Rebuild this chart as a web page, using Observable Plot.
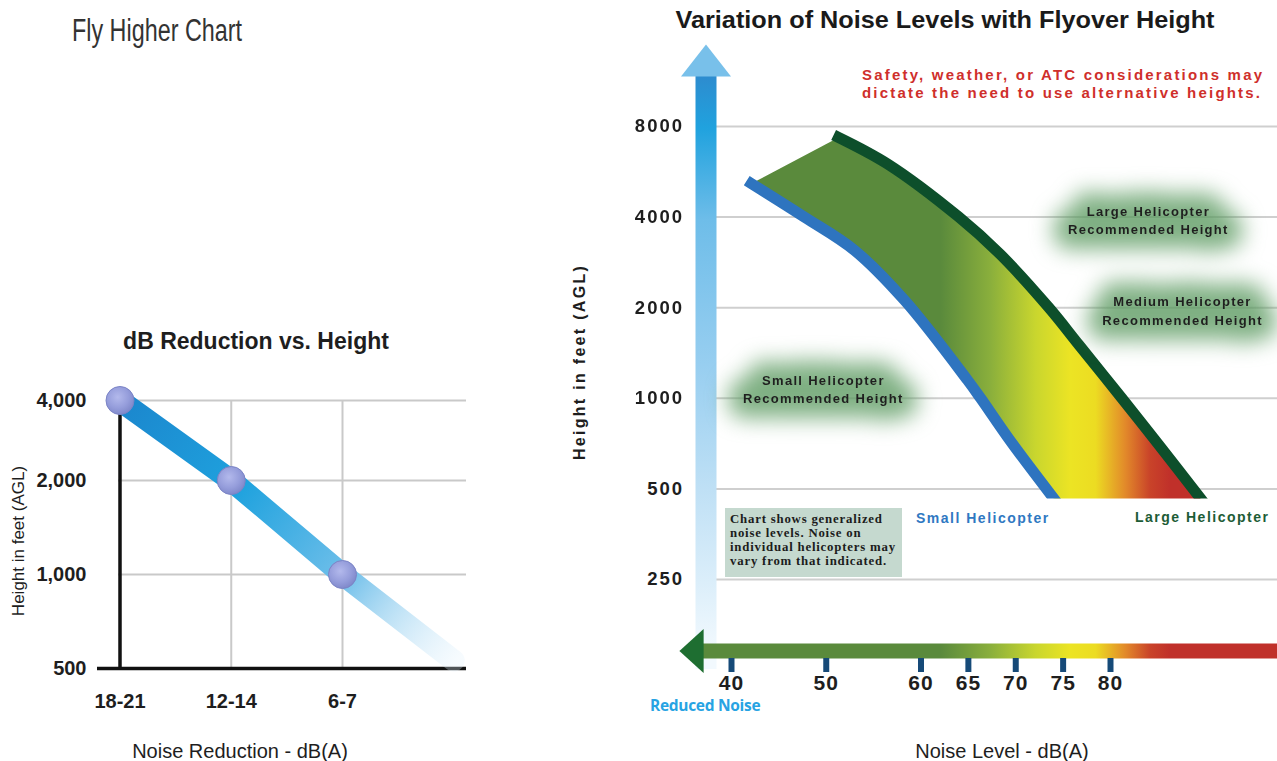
<!DOCTYPE html>
<html>
<head>
<meta charset="utf-8">
<script src="https://cdn.jsdelivr.net/npm/d3@7"></script>
<script src="https://cdn.jsdelivr.net/npm/@observablehq/plot@0.6"></script>
<style>
  html, body { margin: 0; padding: 0; background: #fff; }
  body { width: 1277px; height: 761px; position: relative; overflow: hidden;
         font-family: "Liberation Sans", Arial, sans-serif; color: #1e1e1e; }
  .layer { position: absolute; left: 0; top: 0; }
  .t { position: absolute; white-space: nowrap; line-height: 1; }
  .c { transform: translate(-50%, -50%); }
  .l { transform: translate(0, -50%); }
  .b { font-weight: bold; }
  .note { position: absolute; left: 725px; top: 508px; width: 172px; height: 65px;
          padding: 4px 0 0 5px; background: #c5d9cf;
          font-family: "Liberation Serif", "DejaVu Serif", serif; font-weight: bold;
          font-size: 12.8px; line-height: 14px; letter-spacing: 0.8px; color: #1c1c1c; white-space: nowrap; }
  .rplot [aria-label="y-axis tick label"] text { letter-spacing: 2px; }
  .rplot [aria-label="x-axis tick label"] text { letter-spacing: 1px; }
</style>
</head>
<body>
<svg width="0" height="0" style="position:absolute">
  <defs>
    <!-- noise colour ramp, shared by the band and the bottom arrow -->
    <linearGradient id="noiseGrad" gradientUnits="userSpaceOnUse" x1="705" y1="0" x2="1277" y2="0">
      <stop offset="0" stop-color="#5a8a3c"/>
      <stop offset="0.411" stop-color="#5a8a3c"/>
      <stop offset="0.498" stop-color="#8aaf3c"/>
      <stop offset="0.577" stop-color="#c9d62e"/>
      <stop offset="0.638" stop-color="#ece424"/>
      <stop offset="0.682" stop-color="#ecdc22"/>
      <stop offset="0.734" stop-color="#e2892a"/>
      <stop offset="0.777" stop-color="#c94329"/>
      <stop offset="0.813" stop-color="#c0302a"/>
      <stop offset="1" stop-color="#c0302a"/>
    </linearGradient>
    <!-- height arrow shaft -->
    <linearGradient id="shaftGrad" gradientUnits="userSpaceOnUse" x1="0" y1="76" x2="0" y2="650">
      <stop offset="0" stop-color="#2d8ccf"/>
      <stop offset="0.09" stop-color="#20a2de"/>
      <stop offset="0.25" stop-color="#6ebde9"/>
      <stop offset="0.5" stop-color="#97cef0"/>
      <stop offset="0.72" stop-color="#bfe0f5"/>
      <stop offset="0.88" stop-color="#dbeefa"/>
      <stop offset="1" stop-color="#f2f9fe"/>
    </linearGradient>
    <!-- fading trend line of the dB reduction chart -->
    <linearGradient id="trendGrad" gradientUnits="userSpaceOnUse" x1="120" y1="397" x2="455" y2="662">
      <stop offset="0" stop-color="#1b86cd"/>
      <stop offset="0.35" stop-color="#1fa2de"/>
      <stop offset="0.68" stop-color="#72c0ea"/>
      <stop offset="1" stop-color="#e3f2fc" stop-opacity="0.3"/>
    </linearGradient>
    <radialGradient id="ballGrad" cx="0.42" cy="0.38" r="0.65">
      <stop offset="0" stop-color="#b3b9ec"/>
      <stop offset="0.6" stop-color="#959ddb"/>
      <stop offset="1" stop-color="#7e87c9"/>
    </radialGradient>
  </defs>
</svg>

<div id="left" class="layer"></div>
<div id="right" class="layer"></div>

<div id="flyTitle" class="t l" style="left:72px;top:30px;font-family:'Liberation Sans Narrow','Liberation Sans',sans-serif;font-size:31px;color:#333;transform-origin:0 50%;">Fly Higher Chart</div>

<div class="t c b" style="left:256px;top:341px;font-size:23px;">dB Reduction vs. Height</div>
<div class="t" style="left:18px;top:541px;font-size:17px;transform:translate(-50%,-50%) rotate(-90deg);">Height in feet (AGL)</div>
<div class="t c" style="left:240px;top:751px;font-size:20px;">Noise Reduction - dB(A)</div>

<div id="rightTitle" class="t c b" style="left:945px;top:20px;font-size:24px;color:#1a1a1a;">Variation of Noise Levels with Flyover Height</div>
<div class="t l b" style="left:862px;top:74px;font-size:15px;letter-spacing:2.2px;color:#cf2f2b;">Safety, weather, or ATC considerations may</div>
<div class="t l b" style="left:862px;top:92px;font-size:15px;letter-spacing:2.2px;color:#cf2f2b;">dictate the need to use alternative heights.</div>
<div class="t b" style="left:580px;top:362px;font-size:16px;letter-spacing:2.3px;transform:translate(-50%,-50%) rotate(-90deg);">Height in feet (AGL)</div>

<div class="note">Chart shows generalized<br>noise levels. Noise on<br>individual helicopters may<br>vary from that indicated.</div>
<div class="t l b" style="left:916px;top:518px;font-size:14px;letter-spacing:1.5px;color:#2f78c2;">Small Helicopter</div>
<div class="t l b" style="left:1135px;top:517px;font-size:14px;letter-spacing:1.5px;color:#1d5c36;">Large Helicopter</div>
<div class="t l b" style="left:650px;top:706px;font-family:'Open Sans',sans-serif;font-size:15.5px;letter-spacing:-0.3px;color:#27a3e3;">Reduced Noise</div>
<div class="t c" style="left:1002px;top:751px;font-size:20px;">Noise Level - dB(A)</div>

<script>
// ---- dB reduction vs. height ----
const reductionLabels = ["18-21", "12-14", "6-7"];
const reductionPos = [0, 1, 2];
const reductionHeights = [4000, 2000, 1000];
// the trend band runs on past the last category
const trendPos = [0, 1, 2, 3];
const trendHeights = [4000, 2000, 1000, 530];
const leftHeightTicks = [500, 1000, 2000, 4000];
const leftGridHeights = [1000, 2000, 4000];

// ---- noise level vs. flyover height ----
const heightTicks = [250, 500, 1000, 2000, 4000, 8000];
const noiseTicks = [40, 50, 60, 65, 70, 75, 80];
const smallDb = [42.1, 47.7, 53.0, 58.3, 64.9, 66.3, 69.4, 74.0];
const smallFt = [5170, 4000, 3100, 2110, 1150, 1000, 724, 465];
const largeDb = [51.3, 56.5, 64.0, 68.4, 73.5, 76.7, 81.2, 85.1, 89.5];
const largeFt = [7360, 6000, 4000, 3000, 2000, 1500, 1000, 700, 465];
const recLabels = ["Large Helicopter\nRecommended Height", "Medium Helicopter\nRecommended Height", "Small Helicopter\nRecommended Height"];
const recDb = [84.0, 87.6, 49.7];
const recFt = [3930, 1970, 1080];

const font = "Liberation Sans, Arial, sans-serif";

// arrowhead symbol: base of width 2r, length 2·ratio·r
const arrowHead = (ratio) => ({
  draw(ctx, size) {
    const r = Math.sqrt(size / Math.PI), h = r * ratio;
    ctx.moveTo(0, -h); ctx.lineTo(r, h); ctx.lineTo(-r, h); ctx.closePath();
  }
});

// ---------- left chart ----------
const trend = trendPos.map((p, i) => ({p, ft: trendHeights[i]}));
const points = reductionPos.map((p, i) => ({p, ft: reductionHeights[i]}));

const left = Plot.plot({
  width: 1277, height: 761,
  marginLeft: 118, marginRight: 811, marginTop: 400, marginBottom: 93,
  style: {background: "transparent", fontFamily: font, overflow: "visible"},
  x: {domain: [0, 2], range: [119.5, 342]},
  y: {type: "log", domain: [500, 1000, 2000, 4000], range: [668, 574, 480, 400]},
  marks: [
    Plot.ruleY(leftGridHeights, {stroke: "#c9c9c9", strokeWidth: 2}),
    Plot.ruleX([1, 2], {y1: 500, y2: 4000, stroke: "#c9c9c9", strokeWidth: 2}),
    Plot.ruleY([500], {stroke: "#111", strokeWidth: 3.5, insetLeft: -21}),
    Plot.ruleX([0], {y1: 500, y2: 4000, insetBottom: -12, stroke: "#111", strokeWidth: 3.5}),
    Plot.line(trend, {x: "p", y: "ft", stroke: "url(#trendGrad)", strokeWidth: 22}),
    Plot.dot(points, {x: "p", y: "ft", r: 14, fill: "url(#ballGrad)", stroke: "#7b84c6", strokeWidth: 1}),
    Plot.axisX(reductionPos, {tickFormat: (i) => reductionLabels[i], tickSize: 0, tickPadding: 25,
      fontSize: 20, fontWeight: "bold", fill: "#1e1e1e", label: null}),
    Plot.axisY(leftHeightTicks, {tickFormat: (d) => d.toLocaleString("en-US"), tickSize: 0, tickPadding: 32,
      fontSize: 20, fontWeight: "bold", fill: "#1e1e1e", label: null})
  ]
});
document.getElementById("left").append(left);

// ---------- right chart ----------
const small = smallDb.map((db, i) => ({db, ft: smallFt[i]}));
const large = largeDb.map((db, i) => ({db, ft: largeFt[i]}));
const bandOutline = [...small, ...large.slice().reverse()];
const recs = recLabels.map((label, i) => ({label, db: recDb[i], ft: recFt[i]}));

const right = Plot.plot({
  width: 1277, height: 761,
  marginLeft: 705.5, marginRight: 0, marginTop: 76, marginBottom: 103,
  className: "rplot",
  style: {background: "transparent", fontFamily: font, overflow: "visible"},
  x: {domain: [40, 80], range: [731, 1110]},
  y: {type: "log", domain: [250, 8000], range: [579, 126]},
  marks: [
    Plot.ruleY(heightTicks, {stroke: "#cfcfcf", strokeWidth: 2}),
    Plot.frame({anchor: "left", stroke: "url(#shaftGrad)", strokeWidth: 21}),
    Plot.line(bandOutline, {x: "db", y: "ft", fill: "url(#noiseGrad)", stroke: "none",
      curve: "catmull-rom", ariaDescription: "band"}),
    Plot.line(small, {x: "db", y: "ft", stroke: "#2e74bf", strokeWidth: 11, strokeLinecap: "square",
      curve: "catmull-rom", ariaDescription: "band"}),
    Plot.line(large, {x: "db", y: "ft", stroke: "#0d4f2b", strokeWidth: 11, strokeLinecap: "square",
      curve: "catmull-rom", ariaDescription: "band"}),
    Plot.text(recs, {x: "db", y: "ft", text: "label", lineHeight: 1.4, fontSize: 13, fontWeight: "bold",
      fill: "#5c9a61", stroke: "#5c9a61", strokeWidth: 30, strokeLinejoin: "round", opacity: 0.78,
      ariaDescription: "glow"}),
    Plot.text(recs, {x: "db", y: "ft", text: "label", lineHeight: 1.4, fontSize: 13, fontWeight: "bold",
      fill: "#1f1f1f", ariaDescription: "rec"}),
    Plot.frame({anchor: "bottom", dy: -7.5, stroke: "url(#noiseGrad)", strokeWidth: 15}),
    Plot.dot([0], {frameAnchor: "top-left", dy: -16, symbol: arrowHead(0.64), r: 25, fill: "#78c0ea"}),
    Plot.dot([0], {frameAnchor: "bottom-left", dx: -14.5, dy: -7.5, rotate: -90, symbol: arrowHead(0.55),
      r: 22, fill: "#1e6e31"}),
    Plot.axisX(noiseTicks, {tickSize: 14, tickPadding: 2.5, stroke: "#164a78", strokeWidth: 6,
      fill: "#1e1e1e", fontSize: 21, fontWeight: "bold", label: null}),
    Plot.axisY(heightTicks, {tickSize: 0, tickPadding: 22, tickFormat: (d) => String(d),
      fill: "#1e1e1e", fontSize: 18.5, fontWeight: "bold", label: null})
  ]
});
document.getElementById("right").append(right);

// trim the band flat at its lowest charted height
const rsel = d3.select(right);
const cutY = right.scale("y").apply(d3.min(smallFt));
rsel.append("defs").append("clipPath").attr("id", "bandCut")
  .append("rect").attr("x", 0).attr("y", 0).attr("width", 1277).attr("height", cutY);
rsel.selectAll('[aria-description="band"]').attr("clip-path", "url(#bandCut)");
rsel.selectAll('[aria-description="glow"]').style("filter", "blur(11px)");
rsel.selectAll('[aria-description="glow"] text, [aria-description="rec"] text').style("letter-spacing", "1.3px");

// condensed headings
function fitWidth(el, target) {
  const w = el.getBoundingClientRect().width;
  el.style.transform = getComputedStyle(el).transform === "none"
    ? `scaleX(${target / w})` : el.style.transform + ` scaleX(${target / w})`;
}
const rt = document.getElementById("rightTitle");
rt.style.transform = "translate(-50%,-50%)";
fitWidth(rt, 539);
const ft = document.getElementById("flyTitle");
ft.style.transform = "translate(0,-50%)";
fitWidth(ft, 170);
</script>
</body>
</html>
